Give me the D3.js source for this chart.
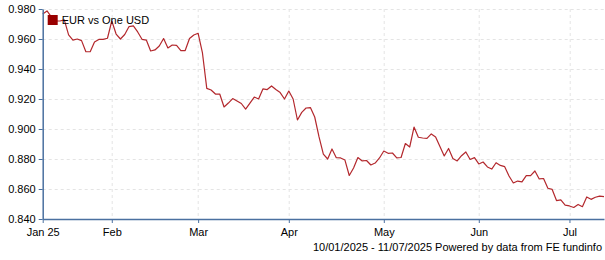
<!DOCTYPE html>
<html>
<head>
<meta charset="utf-8">
<script src="https://cdn.jsdelivr.net/npm/d3@7"></script>
<style>
  body { margin: 0; background: #fff; }
  svg { display: block; font-family: "Liberation Sans", Arial, sans-serif; }
</style>
</head>
<body>
<svg id="chart"></svg>
<script>
// EUR per one USD, one value per business day from 10 Jan 2025
const startDate = new Date(2025, 0, 10);
const rates = [
  0.9767, 0.9787, 0.9747, 0.9720, 0.9720, 0.9727, 0.9627, 0.9593, 0.9600, 0.9589,
  0.9515, 0.9515, 0.9580, 0.9597, 0.9598, 0.9605, 0.9720, 0.9633, 0.9600, 0.9630,
  0.9683, 0.9687, 0.9647, 0.9598, 0.9593, 0.9520, 0.9527, 0.9553, 0.9603, 0.9540,
  0.9560, 0.9557, 0.9522, 0.9523, 0.9603, 0.9627, 0.9638, 0.9507, 0.9271, 0.9260,
  0.9233, 0.9233, 0.9147, 0.9173, 0.9203, 0.9187, 0.9170, 0.9133, 0.9173, 0.9213,
  0.9200, 0.9267, 0.9263, 0.9287, 0.9263, 0.9243, 0.9200, 0.9253, 0.9200, 0.9060,
  0.9111, 0.9140, 0.9143, 0.9080, 0.8947, 0.8833, 0.8800, 0.8867, 0.8809, 0.8807,
  0.8793, 0.8690, 0.8740, 0.8810, 0.8787, 0.8790, 0.8760, 0.8773, 0.8807, 0.8853,
  0.8838, 0.8840, 0.8807, 0.8810, 0.8903, 0.8880, 0.9013, 0.8945, 0.8940, 0.8938,
  0.8967, 0.8947, 0.8883, 0.8820, 0.8870, 0.8803, 0.8787, 0.8822, 0.8847, 0.8797,
  0.8809, 0.8767, 0.8780, 0.8747, 0.8733, 0.8775, 0.8757, 0.8749, 0.8687, 0.8640,
  0.8653, 0.8647, 0.8689, 0.8689, 0.8720, 0.8667, 0.8670, 0.8605, 0.8597, 0.8523,
  0.8527, 0.8493, 0.8487, 0.8477, 0.8497, 0.8482, 0.8547, 0.8531, 0.8545, 0.8553,
  0.8549
];
const yTicks = [0.84, 0.86, 0.88, 0.90, 0.92, 0.94, 0.96, 0.98];
const firstTickLabel = 'Jan 25';
const seriesName = 'EUR vs One USD';
const footerText = '10/01/2025 - 11/07/2025 Powered by data from FE fundinfo';

const containerWidth = 605, containerHeight = 260;
const margin = { top: 9, right: 1, bottom: 41, left: 42.7 };
const width = containerWidth - margin.left - margin.right,
      height = containerHeight - margin.top - margin.bottom;

// business days
let dates = [];
let d = new Date(startDate);
while (dates.length < rates.length) {
  if (d.getDay() !== 0 && d.getDay() !== 6) dates.push(new Date(d));
  d.setDate(d.getDate() + 1);
}
let data = rates.map((v, i) => ({ i: i, date: dates[i], value: v }));

// month starts for x ticks
let xTicks = [0];
for (let i = 1; i < dates.length; i++) {
  if (dates[i].getMonth() !== dates[i - 1].getMonth()) xTicks.push(i);
}
const monthFmt = d3.timeFormat('%b');

let svg = d3.select('#chart')
  .attr('width', containerWidth)
  .attr('height', containerHeight);

let chart = svg.append('g')
  .attr('transform', `translate(${margin.left}, ${margin.top})`);

let x = d3.scaleLinear()
  .domain([0, rates.length - 1])
  .range([0, width]);

let y = d3.scaleLinear()
  .domain([0.84, 0.98])
  .range([height, 0]);

// grid
let grid = chart.append('g').attr('class', 'grid')
  .attr('stroke', '#e4e4e4')
  .attr('stroke-dasharray', '3,3');

grid.selectAll('.h')
  .data(yTicks.slice(1))
  .enter().append('line')
  .attr('x1', 0).attr('x2', width)
  .attr('y1', (v) => Math.round(y(v)) + 0.5)
  .attr('y2', (v) => Math.round(y(v)) + 0.5);

grid.selectAll('.v')
  .data(xTicks.slice(1))
  .enter().append('line')
  .attr('y1', 0).attr('y2', height)
  .attr('x1', (i) => Math.round(x(i)) + 0.5)
  .attr('x2', (i) => Math.round(x(i)) + 0.5);

// line
let line = d3.line()
  .x((p) => x(p.i))
  .y((p) => y(p.value));

chart.append('path')
  .datum(data)
  .attr('fill', 'none')
  .attr('stroke', '#b3282d')
  .attr('stroke-width', 1.2)
  .attr('stroke-linejoin', 'round')
  .attr('d', line);

// axes
let xAxis = d3.axisBottom(x)
  .tickValues(xTicks)
  .tickSizeInner(4)
  .tickSizeOuter(0)
  .tickPadding(5)
  .tickFormat((i) => i === 0 ? firstTickLabel : monthFmt(dates[i]));

chart.append('g')
  .attr('class', 'axis axis-x')
  .attr('transform', `translate(0, ${height})`)
  .call(xAxis);

chart.append('g')
  .attr('class', 'axis axis-y')
  .call(d3.axisLeft(y)
    .tickValues(yTicks)
    .tickSizeInner(4)
    .tickSizeOuter(0)
    .tickPadding(3)
    .tickFormat(d3.format('.3f')));

svg.selectAll('.axis .domain')
  .attr('stroke', '#4a70a0')
  .attr('stroke-width', 1.5);
svg.selectAll('.axis .tick line')
  .attr('stroke', '#4a70a0');
svg.selectAll('.axis text')
  .attr('fill', '#000')
  .attr('font-size', 11)
  .attr('font-family', '"Liberation Sans", Arial, sans-serif');

// legend
let legend = chart.append('g')
  .attr('transform', 'translate(5, 6)');
legend.append('rect')
  .attr('width', 10).attr('height', 10)
  .attr('fill', '#990000');
legend.append('text')
  .attr('x', 14).attr('y', 9)
  .attr('font-size', 11)
  .attr('fill', '#000')
  .text(seriesName);

// footer
svg.append('text')
  .attr('x', 602).attr('y', 251)
  .attr('text-anchor', 'end')
  .attr('font-size', 11)
  .attr('fill', '#000')
  .text(footerText);
</script>
</body>
</html>
